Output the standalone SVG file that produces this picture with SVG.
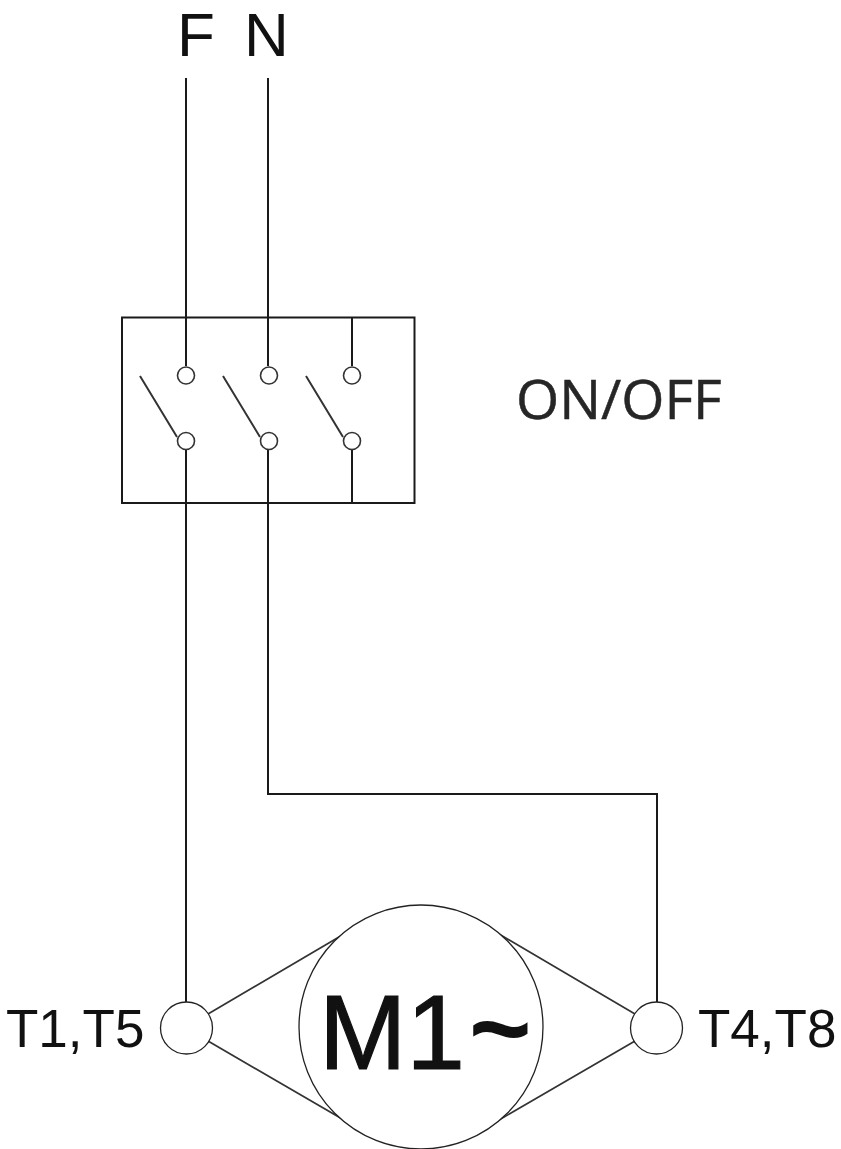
<svg xmlns="http://www.w3.org/2000/svg" width="841" height="1149" viewBox="0 0 841 1149">
<style>
.w{fill:none;stroke:#1a1a1a;stroke-width:2}
.b{fill:none;stroke:#333;stroke-width:2}
.t{fill:none;stroke:#333;stroke-width:1.7}
.c{fill:#fff;stroke:#333;stroke-width:1.6}
.m{fill:#fff;stroke:#222;stroke-width:1.3}
.s{font-family:"Liberation Sans",Arial,sans-serif;fill:#111}
</style>
<rect width="841" height="1149" fill="#fff"/>
<g id="connectors">
<path class="w" d="M186 78V366M268 78V366M186 449V1002M268 449V794H657V1003"/>
<path class="w" d="M352 318V366M352 449V503"/>
<path class="b" d="M140 376L177 437M223 376L260 437M306 376L343 437"/>
<path class="t" d="M208 1014L356 927M208 1041L356 1127M635 1014L487 927M635 1041L487 1127"/>
</g>
<g id="switch"><rect class="w" x="122" y="317.500" width="292.500" height="185.500"/>
<circle class="c" cx="186" cy="375.500" r="8.500"/><circle class="c" cx="269" cy="375.500" r="8.500"/><circle class="c" cx="352" cy="375.500" r="8.500"/>
<circle class="c" cx="186" cy="441" r="8.500"/><circle class="c" cx="269" cy="441" r="8.500"/><circle class="c" cx="352" cy="441" r="8.500"/></g>
<g id="motor"><circle class="m" cx="421" cy="1027" r="122"/><text class="s" x="319" y="1069" font-size="105" stroke="#111" stroke-width="1.200">M1</text><text class="s" x="469" y="1065" font-size="107" font-weight="bold">~</text></g>
<g id="t1t5"><circle class="m" cx="186.500" cy="1028" r="26"/><text class="s" x="6" y="1047" font-size="53">T1,T5</text></g>
<g id="t4t8"><circle class="m" cx="656.500" cy="1028" r="26"/><text class="s" x="698" y="1047" font-size="53">T4,T8</text></g>
<g id="labels"><text class="s" x="177" y="56" font-size="62">F</text><text class="s" x="244" y="56" font-size="62">N</text>
<text x="516" y="419" font-size="55.500" fill="#262626" stroke="#262626" stroke-width="0.500" style="font-family:'Open Sans','Noto Sans',sans-serif">ON/OFF</text></g>
</svg>
